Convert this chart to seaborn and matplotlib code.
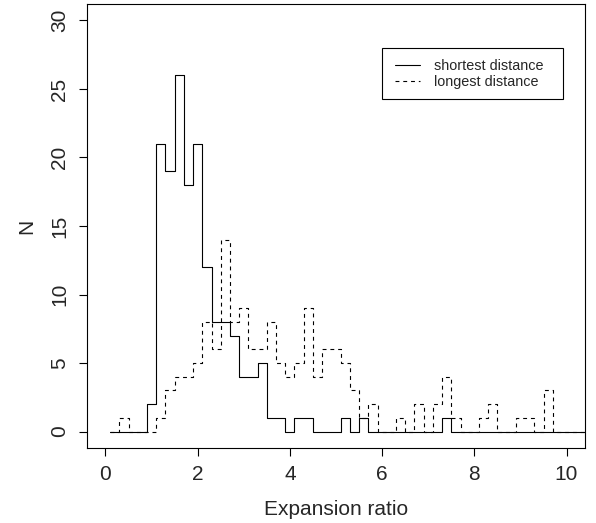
import numpy as np
import pandas as pd
import matplotlib
matplotlib.use("Agg")
import matplotlib.pyplot as plt
from matplotlib.lines import Line2D
from matplotlib.patches import Rectangle
import seaborn as sns

# bins of width 0.2 starting at 0.1
bin_start = 0.1
bin_width = 0.2
shortest_counts = [0, 0, 0, 0, 2, 21, 19, 26, 18, 21, 12, 8, 8, 7, 4, 4, 5, 1, 1, 0,
                   1, 1, 0, 0, 0, 1, 0, 1, 0, 0, 0, 0, 0, 0, 0, 0, 1, 0, 0, 0,
                   0, 0, 0, 0, 0, 0, 0, 0, 0, 0, 0, 0]
longest_counts = [0, 1, 0, 0, 0, 1, 3, 4, 4, 5, 8, 6, 14, 8, 9, 6, 6, 8, 5, 4,
                  5, 9, 4, 6, 6, 5, 3, 1, 2, 0, 0, 1, 0, 2, 0, 2, 4, 1, 0, 0,
                  1, 2, 0, 0, 1, 1, 0, 3, 0, 0, 0, 0]
series_labels = ["shortest distance", "longest distance"]
x_ticks = [0, 2, 4, 6, 8, 10]
y_ticks = [0, 5, 10, 15, 20, 25, 30]

sns.set_style("ticks")
plt.rcParams["font.family"] = ["Liberation Sans", "DejaVu Sans"]

nb = len(shortest_counts)
edges = [float(v) for v in bin_start + bin_width * np.arange(nb + 1)]
centers = [e + bin_width / 2 for e in edges[:-1]]
df = pd.DataFrame({"center": centers,
                   "shortest": [float(v) for v in shortest_counts],
                   "longest": [float(v) for v in longest_counts]})

W, H = 596, 523
AX_L, AX_R, AX_T, AX_B = 87, 585, 4, 448
fig = plt.figure(figsize=(W / 100, H / 100), dpi=100)
ax = fig.add_axes([AX_L / W, (H - AX_B) / H, (AX_R - AX_L) / W, (AX_B - AX_T) / H])


def axfrac(px, py):
    return (px - AX_L) / (AX_R - AX_L), (AX_B - py) / (AX_B - AX_T)


lw = 0.8
dash = (0, (3.5, 3.5))
sns.histplot(data=df, x="center", weights="shortest", bins=edges, element="step",
             fill=False, color="black", linewidth=lw, linestyle="-", ax=ax)
sns.histplot(data=df, x="center", weights="longest", bins=edges, element="step",
             fill=False, color="black", linewidth=lw, linestyle=dash, ax=ax)

ax.set_xlim(-0.4, 10.4)
ax.set_ylim(-1.2, 31.2)
ax.set_xticks(x_ticks)
ax.set_yticks(y_ticks)
fs = 15
ax.set_xticklabels([str(v) for v in x_ticks], fontsize=fs)
ax.set_yticklabels([str(v) for v in y_ticks], fontsize=fs, rotation=90, va="center")
ax.tick_params(axis="both", direction="out", length=5.5, width=0.8, color="black")
ax.tick_params(axis="x", pad=6.8)
ax.tick_params(axis="y", pad=7.2)
for s in ax.spines.values():
    s.set_visible(True)
    s.set_linewidth(0.8)
    s.set_color("black")
ax.set_xlabel("Expansion ratio", fontsize=fs, labelpad=11.5)
ax.set_ylabel("N", fontsize=fs, labelpad=10.5)

# legend frame
x0, y1 = axfrac(382, 47.7)
x1, y0 = axfrac(563, 98.7)
ax.add_patch(Rectangle((x0, y0), x1 - x0, y1 - y0, transform=ax.transAxes,
                       facecolor="white", edgecolor="black", linewidth=0.8,
                       zorder=4, clip_on=False))
handles = [Line2D([], [], color="black", lw=lw, linestyle="-"),
           Line2D([], [], color="black", lw=lw, linestyle=dash)]
lx, ly = axfrac(395, 59.3)
leg = ax.legend(handles, series_labels, loc="upper left",
                bbox_to_anchor=(lx, ly), fontsize=10.4, frameon=False,
                handlelength=1.74, borderpad=0, labelspacing=0.12, handletextpad=0.97,
                borderaxespad=0)
leg.set_zorder(5)

fig.savefig("out.png", dpi=100)
